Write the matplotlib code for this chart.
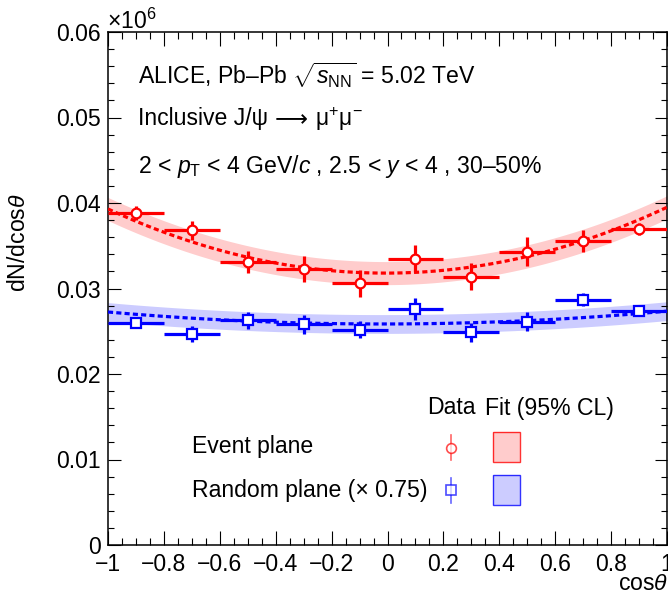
import numpy as np
import matplotlib
matplotlib.use('Agg')
import matplotlib.pyplot as plt
from matplotlib.ticker import MultipleLocator
from matplotlib.patches import Rectangle
from matplotlib.lines import Line2D

plt.rcParams['font.family'] = ['Liberation Sans', 'DejaVu Sans']
plt.rcParams['mathtext.fontset'] = 'custom'
plt.rcParams['mathtext.rm'] = 'Liberation Sans'
plt.rcParams['mathtext.it'] = 'Liberation Sans:italic'
plt.rcParams['mathtext.bf'] = 'Liberation Sans:bold'
plt.rcParams['axes.unicode_minus'] = True

# ---------------- data ----------------
cos_centers = [-0.9, -0.7, -0.5, -0.3, -0.1, 0.1, 0.3, 0.5, 0.7, 0.9]
bin_halfwidth = 0.1
ep_values = [0.0388, 0.0368, 0.0331, 0.0323, 0.0306, 0.0335, 0.0314, 0.0343, 0.0356, 0.0370]
ep_errors = [0.0008, 0.0011, 0.0013, 0.0015, 0.0016, 0.0016, 0.0016, 0.0017, 0.0013, 0.0007]
rp_values = [0.0260, 0.0247, 0.0263, 0.0258, 0.0252, 0.0276, 0.0249, 0.0261, 0.0287, 0.0274]
rp_errors = [0.0006, 0.0009, 0.0010, 0.0011, 0.0010, 0.0013, 0.0011, 0.0011, 0.0008, 0.0005]
# fit: c0 + c1*x + c2*x^2, with 95% CL half-width
ep_fit_coeffs = [0.0318, 0.0001, 0.0076]
ep_fit_band = 0.00135
rp_fit_coeffs = [0.02585, 0.00005, 0.00145]
rp_fit_band = 0.0011

y_ticks = [0, 0.01, 0.02, 0.03, 0.04, 0.05, 0.06]
y_tick_labels = ['0', '0.01', '0.02', '0.03', '0.04', '0.05', '0.06']
x_ticks = [-1, -0.8, -0.6, -0.4, -0.2, 0, 0.2, 0.4, 0.6, 0.8, 1]
x_tick_labels = ['\u22121', '\u22120.8', '\u22120.6', '\u22120.4', '\u22120.2', '0', '0.2', '0.4', '0.6', '0.8', '1']

RED = '#ff0000'
BLUE = '#0000ff'
FS = 16.6

W, H = 668, 598
fig = plt.figure(figsize=(W / 100, H / 100), dpi=100)
def fx(px):
    return px / W
def fy(py):
    return 1 - py / H

ax = fig.add_axes([fx(108), fy(545), fx(667) - fx(108), fy(32) - fy(545)])

xs = np.linspace(-1, 1, 300)
def poly(c, x):
    return c[0] + c[1] * x + c[2] * x ** 2

for coeffs, band, col in [(ep_fit_coeffs, ep_fit_band, RED), (rp_fit_coeffs, rp_fit_band, BLUE)]:
    yv = poly(coeffs, xs)
    ax.fill_between(xs, yv - band, yv + band, color=col, alpha=0.2, lw=0, zorder=1)
    ax.plot(xs, yv, color=col, lw=2.3, ls=(0, (1.6, 1.0)), zorder=3)

ax.errorbar(cos_centers, ep_values, xerr=bin_halfwidth, yerr=ep_errors, fmt='o',
            color=RED, mfc='white', mec=RED, ms=7, mew=1.6, elinewidth=2.3,
            capsize=0, zorder=5)
ax.errorbar(cos_centers, rp_values, xerr=bin_halfwidth, yerr=rp_errors, fmt='s',
            color=BLUE, mfc='white', mec=BLUE, ms=6.5, mew=1.6, elinewidth=2.3,
            capsize=0, zorder=5)

ax.set_xlim(-1, 1)
ax.set_ylim(0, 0.06)
ax.set_xticks(x_ticks)
ax.set_xticklabels(x_tick_labels)
ax.set_yticks(y_ticks)
ax.set_yticklabels(y_tick_labels)
ax.xaxis.set_minor_locator(MultipleLocator(0.05))
ax.yaxis.set_minor_locator(MultipleLocator(0.002))
ax.tick_params(axis='both', which='both', direction='in', top=True, right=True,
               labelsize=FS, width=0.8, colors='black')
ax.tick_params(axis='x', which='major', length=10, pad=6)
ax.tick_params(axis='x', which='minor', length=5)
ax.tick_params(axis='y', which='major', length=9, pad=5)
ax.tick_params(axis='y', which='minor', length=4.5)
for s in ax.spines.values():
    s.set_linewidth(1.1)

# axis titles
fig.text(fx(668), fy(584), r'cos$\theta$', ha='right', va='center', fontsize=FS)
fig.text(fx(19), fy(243), r'dN/dcos$\theta$', ha='center', va='center', fontsize=FS, rotation=90)
fig.text(fx(107), fy(29), r'$\times$10$^{6}$', ha='left', va='baseline', fontsize=FS)

# header texts
fig.text(fx(138), fy(75), 'ALICE, Pb\u2013Pb ' + r'$\sqrt{s_{\rm NN}}$ = 5.02 TeV', ha='left', va='center', fontsize=FS)
renderer = fig.canvas.get_renderer()
t1 = fig.text(fx(138), fy(119), 'Inclusive J/\u03c8', ha='left', va='center', fontsize=FS)
bb1 = t1.get_window_extent(renderer)
t2 = fig.text((bb1.x1 + 2) / W, fy(118), r'$\longrightarrow$', ha='left', va='center',
              fontsize=FS, math_fontfamily='dejavusans')
bb2 = t2.get_window_extent(renderer)
fig.text((bb2.x1 + 7) / W, fy(119), '\u03bc$^{+}$\u03bc$^{-}$', ha='left', va='center', fontsize=FS)
fig.text(fx(138), fy(166), r'2 < $p_{\rm T}$ < 4 GeV/$c$ , 2.5 < $y$ < 4 , 30' + '\u2013' + '50%', ha='left', va='center', fontsize=FS)

# legend
fig.text(fx(427), fy(408), 'Data', ha='left', va='center', fontsize=FS)
fig.text(fx(485), fy(408), 'Fit (95% CL)', ha='left', va='center', fontsize=FS)
fig.text(fx(192), fy(446), 'Event plane', ha='left', va='center', fontsize=FS)
fig.text(fx(192), fy(490), 'Random plane (\u00d7 0.75)', ha='left', va='center', fontsize=FS)

for py, mk, col in [(447.5, 'o', RED), (490, 's', BLUE)]:
    fig.add_artist(Line2D([fx(451), fx(451)], [fy(py - 12.5), fy(py + 12.5)], color=col, lw=1.2, alpha=0.6))
    fig.add_artist(Line2D([fx(451)], [fy(py)], marker=mk, mfc='white', mec=col, ms=7 if mk == 'o' else 6.5,
                          mew=1.2, alpha=0.7, ls='none'))
for py0, col in [(432, RED), (475, BLUE)]:
    fig.add_artist(Rectangle((fx(492.5), fy(py0 + 30)), fx(519.5) - fx(492.5), fy(py0) - fy(py0 + 30),
                             facecolor=col, alpha=0.2, edgecolor='none', transform=fig.transFigure))
    fig.add_artist(Rectangle((fx(492.5), fy(py0 + 30)), fx(519.5) - fx(492.5), fy(py0) - fy(py0 + 30),
                             facecolor='none', edgecolor=col, lw=1.0, alpha=0.8, transform=fig.transFigure))

fig.savefig('out.png', dpi=100)
